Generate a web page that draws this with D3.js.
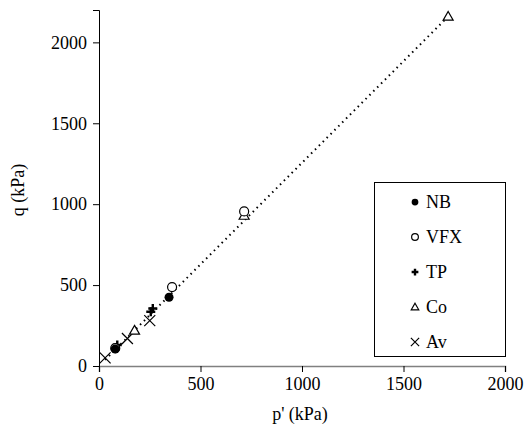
<!DOCTYPE html>
<html><head><meta charset="utf-8">
<script src="https://cdn.jsdelivr.net/npm/d3@7"></script>
<style>body{margin:0;background:#fff}svg{display:block}</style>
</head><body>
<svg id="c" width="529" height="435"></svg>
<script>
const seriesNames = ["NB","VFX","TP","Co","Av"];
const nbP = [80, 345], nbQ = [105, 425];
const vfxP = [80, 360, 715], vfxQ = [110, 488, 955];
const tpP = [90, 255, 265], tpQ = [130, 335, 355];
const coP = [175, 715, 1720], coQ = [220, 930, 2160];
const avP = [30, 140, 250], avQ = [50, 170, 280];
const trendP = [30, 1720], trendQ = [38, 2160];
const xTicks = [0, 500, 1000, 1500, 2000];
const yTicks = [0, 500, 1000, 1500, 2000];

const FONT = '"Liberation Serif"';
const svg = d3.select("#c");
const x = d3.scaleLinear().domain([0, 2000]).range([99, 505]);
const y = d3.scaleLinear().domain([0, 2200]).range([366, 10]);

// trend line
svg.append("path")
  .attr("d", d3.line().x(d => x(d[0])).y(d => y(d[1]))(d3.zip(trendP, trendQ)))
  .attr("fill", "none").attr("stroke", "#000").attr("stroke-width", 2)
  .attr("stroke-dasharray", "1.5,4").attr("stroke-linecap", "butt");

// axes
const xa = svg.append("g").attr("transform", "translate(0,366)")
  .call(d3.axisBottom(x).tickValues(xTicks).tickFormat(d3.format("d")).tickSize(6).tickPadding(5));
xa.select(".domain").attr("stroke", "#808080").attr("stroke-width", 1.5);
xa.selectAll(".tick line").attr("stroke", "#000");
xa.selectAll("text").attr("fill", "#000").style("font-family", FONT).style("font-size", "18px");

const ya = svg.append("g").attr("transform", "translate(99,0)")
  .call(d3.axisLeft(y).tickValues(yTicks).tickFormat(d3.format("d")).tickSize(6).tickPadding(6));
ya.select(".domain").attr("stroke", "#000").attr("stroke-width", 1);
ya.selectAll("text").attr("fill", "#000").style("font-family", FONT).style("font-size", "18px");

svg.append("text").attr("x", 300).attr("y", 420).attr("text-anchor", "middle")
  .style("font-family", FONT).style("font-size", "18px").text("p' (kPa)");
svg.append("text").attr("transform", "translate(24,190) rotate(-90)").attr("text-anchor", "middle")
  .style("font-family", FONT).style("font-size", "18px").text("q (kPa)");

function drawMarker(g, type, cx, cy, s) {
  if (type === "NB") g.append("circle").attr("cx", cx).attr("cy", cy).attr("r", 4.5*s).attr("fill", "#000");
  else if (type === "VFX") g.append("circle").attr("cx", cx).attr("cy", cy).attr("r", 4.5*s).attr("fill", "#fff").attr("stroke", "#000").attr("stroke-width", 1.2);
  else if (type === "TP") {
    const a = 4.5*s;
    g.append("path").attr("d", `M${cx-a},${cy}H${cx+a}M${cx},${cy-a}V${cy+a}`).attr("stroke", "#000").attr("stroke-width", 2.4).attr("fill", "none");
  } else if (type === "Co") {
    const a = 5*s;
    g.append("path").attr("d", `M${cx},${cy-a}L${cx+a},${cy+a*0.75}L${cx-a},${cy+a*0.75}Z`).attr("fill", "#fff").attr("stroke", "#000").attr("stroke-width", 1.2);
  } else if (type === "Av") {
    const a = 5.5*s;
    g.append("path").attr("d", `M${cx-a},${cy-a}L${cx+a},${cy+a}M${cx-a},${cy+a}L${cx+a},${cy-a}`).attr("stroke", "#000").attr("stroke-width", 1.2).attr("fill", "none");
  }
}

const pts = svg.append("g");
const sets = [["Av", avP, avQ], ["Co", coP, coQ], ["TP", tpP, tpQ], ["VFX", vfxP, vfxQ], ["NB", nbP, nbQ]];
sets.forEach(([name, P, Q]) => P.forEach((p, i) => drawMarker(pts, name, x(p), y(Q[i]), 1)));

// legend
const lg = svg.append("g");
lg.append("rect").attr("x", 374.5).attr("y", 182.5).attr("width", 131).attr("height", 174)
  .attr("fill", "#fff").attr("stroke", "#000").attr("stroke-width", 1);
const legY = d3.scalePoint().domain(seriesNames).range([202, 342]);
seriesNames.forEach(n => {
  drawMarker(lg, n, 415, legY(n), 0.75);
  lg.append("text").attr("x", 426).attr("y", legY(n) + 6)
    .style("font-family", FONT).style("font-size", "18px").text(n);
});
</script>
</body></html>
